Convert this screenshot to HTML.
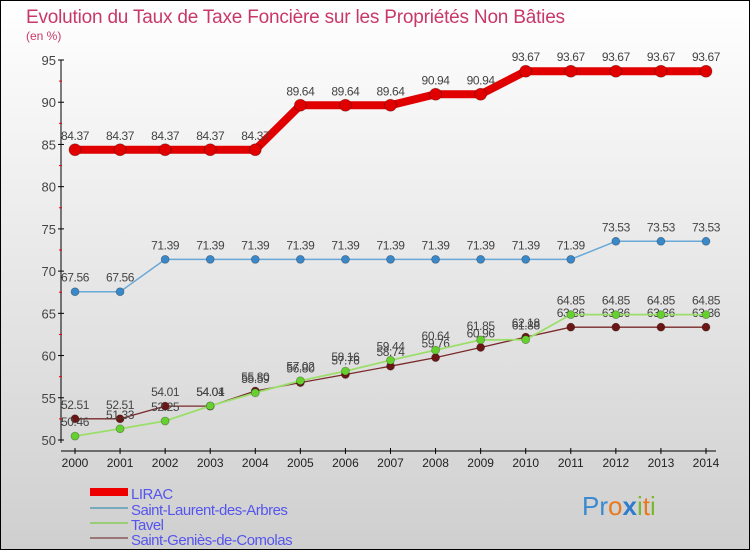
<!DOCTYPE html>
<html><head><meta charset="utf-8"><style>
html,body{margin:0;padding:0}
body{width:750px;height:550px;overflow:hidden;font-family:"Liberation Sans",sans-serif}
svg text{font-family:"Liberation Sans",sans-serif}
</style></head><body>
<svg id="chart" width="750" height="550" xmlns="http://www.w3.org/2000/svg">
<defs><linearGradient id="bg" x1="0" y1="0" x2="0" y2="1"><stop offset="0" stop-color="#ffffff"/><stop offset="1" stop-color="#cfcfcf"/></linearGradient></defs>
<rect x="0.5" y="0.5" width="749" height="549" fill="url(#bg)" stroke="#000"/>
<text x="26" y="23" font-size="19" fill="#c8386a" letter-spacing="-0.2">Evolution du Taux de Taxe Foncière sur les Propriétés Non Bâties</text>
<text x="26" y="40" font-size="12" fill="#c8386a">(en %)</text>
<g id="axes"></g><g id="series"></g>
<g>
<rect x="90" y="488" width="38" height="8" fill="#e00"/>
<text x="131" y="499" font-size="15" fill="#5555ee" letter-spacing="-0.5">LIRAC</text>
<rect x="90" y="507" width="38" height="2" fill="#7ab"/>
<text x="131" y="515" font-size="15" fill="#5555ee" letter-spacing="-0.5">Saint-Laurent-des-Arbres</text>
<rect x="90" y="522" width="38" height="2" fill="#9c7"/>
<text x="131" y="530" font-size="15" fill="#5555ee" letter-spacing="-0.5">Tavel</text>
<rect x="90" y="537" width="38" height="2" fill="#977"/>
<text x="131" y="545" font-size="15" fill="#5555ee" letter-spacing="-0.5">Saint-Geniès-de-Comolas</text>
</g>
<g font-size="26">
<text x="582" y="515"><tspan fill="#3a8ad0">Pr</tspan><tspan fill="#e87a1e">o</tspan><tspan fill="#2f7ccc" font-weight="bold">x</tspan><tspan fill="#7cb82f">i</tspan><tspan fill="#e87a1e">t</tspan><tspan fill="#7cb82f">i</tspan></text>
</g>
</svg>
<script>
const years=[2000,2001,2002,2003,2004,2005,2006,2007,2008,2009,2010,2011,2012,2013,2014];
const lirac=[84.37,84.37,84.37,84.37,84.37,89.64,89.64,89.64,90.94,90.94,93.67,93.67,93.67,93.67,93.67];
const saintLaurent=[67.56,67.56,71.39,71.39,71.39,71.39,71.39,71.39,71.39,71.39,71.39,71.39,73.53,73.53,73.53];
const tavel=[50.46,51.33,52.25,54.04,55.59,57.02,58.16,59.44,60.64,61.85,61.88,64.85,64.85,64.85,64.85];
const saintGenies=[52.51,52.51,54.01,54.01,55.8,56.8,57.76,58.74,59.76,60.96,62.18,63.36,63.36,63.36,63.36];
const yTicks=[50,55,60,65,70,75,80,85,90,95];
const NS="http://www.w3.org/2000/svg";
const x=i=>75+i*(706-75)/(years.length-1);
const y=v=>440-(v-50)*(380/45);
function mk(t,a,p){const e=document.createElementNS(NS,t);for(const k in a)e.setAttribute(k,a[k]);p.appendChild(e);return e;}
const ax=document.getElementById('axes');
const yl=mk('line',{x1:61,y1:y(95),x2:61,y2:y(50)+3,stroke:'#000'},ax);


const xl=mk('line',{x1:61,y1:y(50)+11,x2:716,y2:y(50)+11,stroke:'#000'},ax);


yTicks.forEach(v=>{
  mk('line',{x1:58,y1:y(v),x2:64,y2:y(v),stroke:'#000'},ax);
  if(v<95)mk('line',{x1:59,y1:y(v+2.5),x2:62,y2:y(v+2.5),stroke:'#e00'},ax);
  const t=mk('text',{x:56,y:y(v)+5,'font-size':13,'text-anchor':'end',fill:'#444'},ax);
  t.textContent=v;
  
  
});
years.forEach((yr,i)=>{
  mk('line',{x1:x(i),y1:y(50)+8,x2:x(i),y2:y(50)+14,stroke:'#000'},ax);
  const t=mk('text',{x:x(i),y:y(50)+27,'font-size':12,'text-anchor':'middle',fill:'#222'},ax);
  t.textContent=yr;
  
  
});
const sg=document.getElementById('series');
function draw(vals,col,w,r,dot,name){
  const g=mk('g',{},sg);
  
  
  mk('polyline',{points:vals.map((v,i)=>x(i)+','+y(v)).join(' '),fill:'none',stroke:col,'stroke-width':w,'stroke-linejoin':'round'},g);
  vals.forEach((v,i)=>{
    const c=mk('circle',{cx:x(i),cy:y(v),r:r,fill:dot,stroke:'rgba(0,0,0,0.3)','stroke-width':0.8},g);
    
    
    const t=mk('text',{x:x(i),y:y(v)-10,'font-size':12,'text-anchor':'middle',fill:'#444','letter-spacing':'-0.4'},g);
    t.textContent=v.toFixed(2);
    
    
  });
}
draw(saintGenies,'#7a2a2a',1.3,4,'#6b1515','series-saint-genies');
draw(tavel,'#9bdf6a',1.8,4,'#66d030','series-tavel');
draw(saintLaurent,'#6aa8d8',1.5,4,'#3a88c8','series-saint-laurent');
draw(lirac,'#e00000',8,6,'#e00000','series-lirac');
</script>
</body></html>
